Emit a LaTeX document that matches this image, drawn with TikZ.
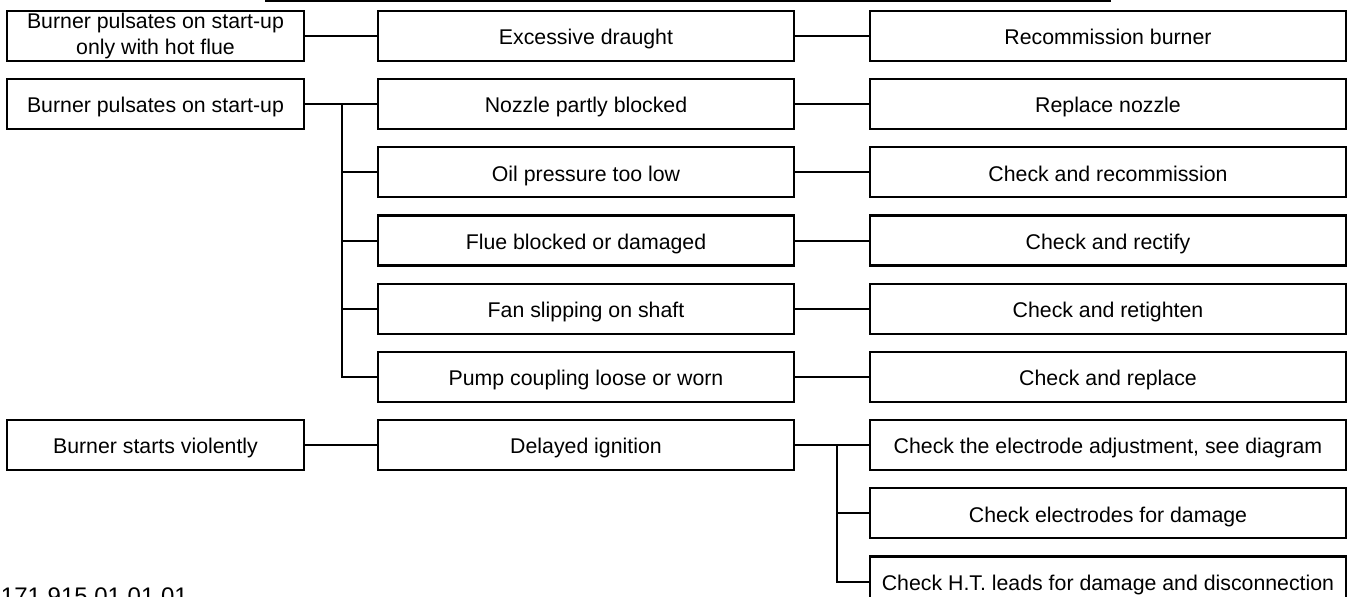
\documentclass[tikz,border=0pt]{standalone}
\usepackage{fontspec}
\setmainfont{Liberation Sans}
\usepackage{tikz}
\usetikzlibrary{positioning}

\begin{document}
\begin{tikzpicture}[%
    line width=1pt, auto,
    node distance=34.1pt, align=center,
    font=\fontsize{10.65}{12.6}\selectfont,
    symptom/.style={%
      rectangle, draw, line width=1.1pt,
      minimum width=148.5pt, minimum height=25pt,
      inner sep=0pt, text height=9.2pt, text depth=0.4pt
    },
    cause/.style={%
      symptom, minimum width=208pt
    },
    remedy/.style={%
      symptom, minimum width=238pt
    }
  ]
    \useasboundingbox (0,0) rectangle (675.5pt,-298.5pt);

    \node[symptom, text height=, text depth=] (1) at (77.75pt,-18pt) {Burner pulsates on start-up\\only with hot flue};
    \node[cause, node distance=215.25pt] (4) [right of=1] {Excessive draught};
    \node[remedy, node distance=261pt] (11) [right of=4] {Recommission burner};

    \node[symptom] (2) [below of=1] {Burner pulsates on start-up};
    \node[cause] (5) [below of=4] {Nozzle partly blocked};
    \node[remedy] (12) [below of=11] {Replace nozzle};

    \node[cause] (6) [below of=5] {Oil pressure too low};
    \node[remedy] (13) [below of=12] {Check and recommission};

    \node[cause] (7) [below of=6] {Flue blocked or damaged};
    \node[remedy] (14) [below of=13] {Check and rectify};

    \node[cause] (8) [below of=7] {Fan slipping on shaft};
    \node[remedy] (15) [below of=14] {Check and retighten};

    \node[cause] (9) [below of=8] {Pump coupling loose or worn};
    \node[remedy] (16) [below of=15] {Check and replace};

    \node[cause] (10) [below of=9] {Delayed ignition};
    \node[symptom, node distance=215.25pt] (3) [left of=10] {Burner starts violently};
    \node[remedy] (17) [below of=16] {Check the electrode adjustment, see diagram};
    \node[remedy] (18) [below of=17] {Check electrodes for damage};
    \node[remedy] (19) [below of=18] {Check H.T. leads for damage and disconnection};

    % branch points
    \coordinate[right=18.5pt of 2.east] (b1);
    \coordinate[right=21pt of 10.east] (b2);

 	  \path (1) edge (4)
 	  		(4) edge (11)
 	  		(2) edge (5)
 	  		(5) edge (12)
 	  		(6) edge (13)
 	  		(7) edge (14)
 	  		(8) edge (15)
 	  		(9) edge (16)
 	  		(3) edge (10)
 	  		(10) edge (17)
 	  ;

    \draw (b1) |- (6);
    \draw (b1) |- (7);
    \draw (b1) |- (8);
    \draw (b1) |- (9);
    \draw (b2) |- (18);
    \draw (b2) |- (19);

    % cut-off frame and drawing number
    \draw (132.5pt,-0.5pt) -- (555.5pt,-0.5pt);
    \node[anchor=base west, inner sep=0pt, font=\fontsize{12}{14}\selectfont] (num) at (0,-302.5pt) {171 915 01 01 01};
  \end{tikzpicture}
\end{document}
